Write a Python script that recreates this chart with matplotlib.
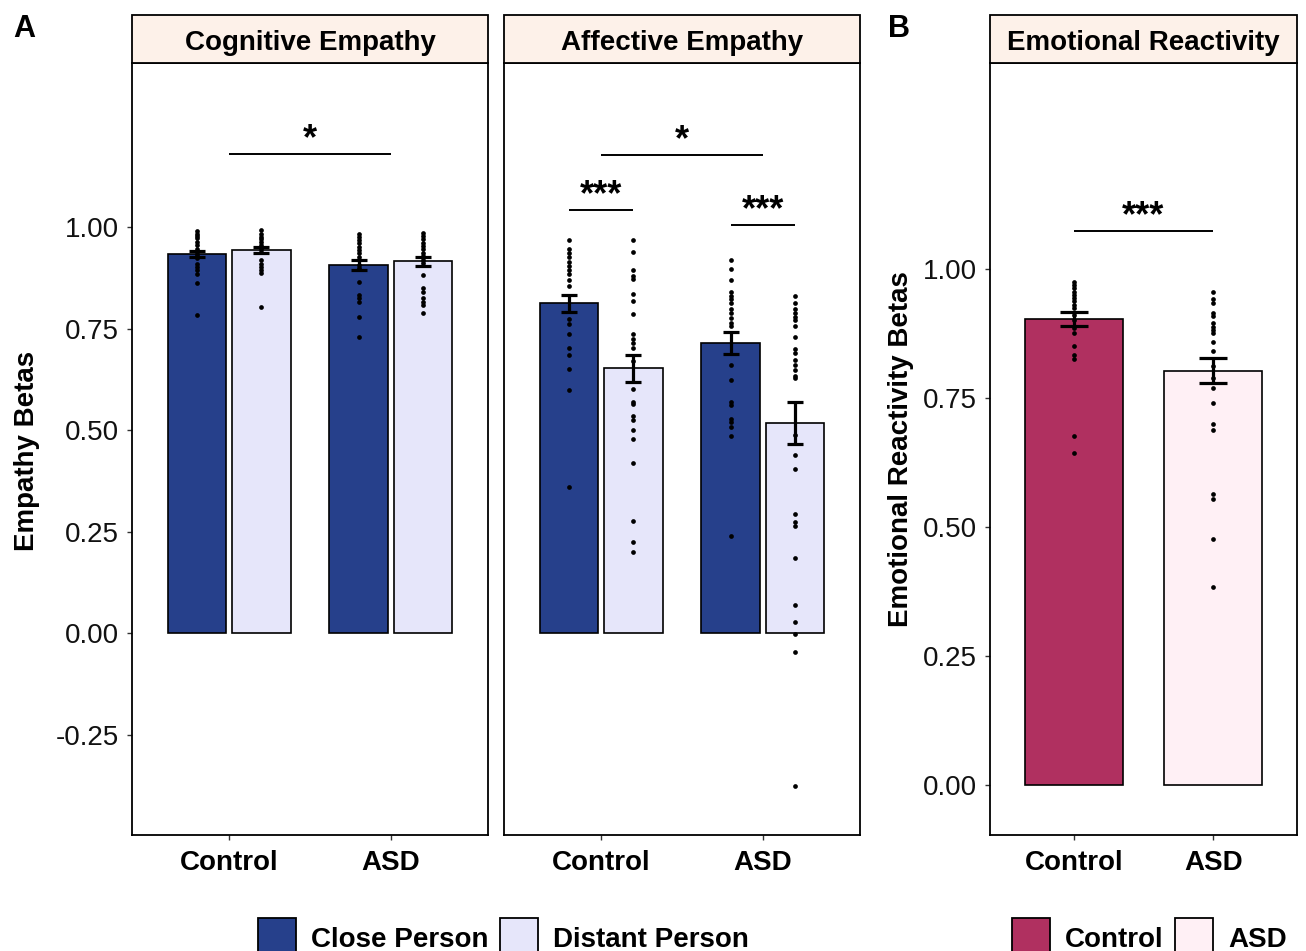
import matplotlib
matplotlib.use("Agg")
import matplotlib.pyplot as plt
from matplotlib.patches import Rectangle, Patch
import numpy as np

plt.rcParams['font.family'] = ['Liberation Sans', 'DejaVu Sans']

# ---- data ----
groups = ["Control", "ASD"]
conditions = ["Close Person", "Distant Person"]

# Cognitive empathy: means and standard errors [Control, ASD]
cog_close_mean = [0.933, 0.906]
cog_close_se = [0.008, 0.012]
cog_distant_mean = [0.943, 0.916]
cog_distant_se = [0.008, 0.011]

cog_close_ctrl_pts = [0.991, 0.984, 0.978, 0.972, 0.964, 0.956, 0.947, 0.939, 0.931, 0.923,
                      0.910, 0.902, 0.894, 0.884, 0.861, 0.784]
cog_distant_ctrl_pts = [0.993, 0.982, 0.976, 0.970, 0.964, 0.956, 0.947, 0.939, 0.919, 0.910,
                        0.902, 0.894, 0.887, 0.802]
cog_close_asd_pts = [0.984, 0.976, 0.968, 0.960, 0.951, 0.943, 0.935, 0.927, 0.919, 0.906,
                     0.898, 0.865, 0.832, 0.824, 0.816, 0.779, 0.730]
cog_distant_asd_pts = [0.986, 0.978, 0.970, 0.961, 0.953, 0.945, 0.937, 0.929, 0.920, 0.912,
                       0.883, 0.851, 0.841, 0.824, 0.816, 0.808, 0.787]

# Affective empathy
aff_close_mean = [0.812, 0.715]
aff_close_se = [0.021, 0.027]
aff_distant_mean = [0.652, 0.518]
aff_distant_se = [0.033, 0.052]

aff_close_ctrl_pts = [0.969, 0.947, 0.935, 0.925, 0.915, 0.905, 0.895, 0.885, 0.870, 0.855,
                      0.773, 0.760, 0.736, 0.702, 0.684, 0.651, 0.598, 0.359]
aff_distant_ctrl_pts = [0.969, 0.938, 0.894, 0.880, 0.873, 0.835, 0.818, 0.786, 0.736, 0.723,
                        0.714, 0.703, 0.671, 0.602, 0.570, 0.563, 0.534, 0.525, 0.500, 0.479,
                        0.419, 0.277, 0.224, 0.200]
aff_close_asd_pts = [0.919, 0.896, 0.869, 0.839, 0.830, 0.823, 0.812, 0.798, 0.789, 0.776,
                     0.764, 0.755, 0.659, 0.624, 0.568, 0.561, 0.527, 0.520, 0.507, 0.485, 0.240]
aff_distant_asd_pts = [0.829, 0.812, 0.798, 0.789, 0.778, 0.771, 0.757, 0.730, 0.700, 0.689,
                       0.672, 0.660, 0.648, 0.634, 0.627, 0.488, 0.438, 0.403, 0.292, 0.273,
                       0.264, 0.186, 0.069, 0.027, -0.002, -0.047, -0.376]

# Emotional reactivity
emo_mean = [0.903, 0.803]
emo_se = [0.013, 0.024]
emo_ctrl_pts = [0.975, 0.969, 0.963, 0.956, 0.950, 0.943, 0.937, 0.930, 0.924, 0.911,
                0.901, 0.885, 0.875, 0.851, 0.833, 0.825, 0.677, 0.643]
emo_asd_pts = [0.955, 0.941, 0.933, 0.915, 0.908, 0.895, 0.888, 0.882, 0.875, 0.859,
               0.841, 0.811, 0.788, 0.769, 0.740, 0.700, 0.688, 0.564, 0.554, 0.477, 0.383]

# significance brackets: (x1, x2, y, label)
cog_sig = [(1.0, 2.0, 1.18, "*")]
aff_sig = [(1.0, 2.0, 1.177, "*"), (0.8, 1.2, 1.042, "***"), (1.8, 2.2, 1.005, "***")]
emo_sig = [(1.0, 2.0, 1.074, "***")]

# ---- styling ----
close_col = "#26408B"
distant_col = "#E6E6FA"
ctrl_col = "#B03060"
asd_col = "#FFF0F5"
strip_col = "#FDF1E9"
FS = 20

W, H = 1306, 951
fig = plt.figure(figsize=(W / 100, H / 100), dpi=100)


def px_axes(left, right, top=63, bottom=835):
    return fig.add_axes([left / W, 1 - bottom / H, (right - left) / W, (bottom - top) / H])


def style_axes(ax, title, show_y=True):
    for sp in ax.spines.values():
        sp.set_linewidth(1.3)
        sp.set_color("black")
    ax.tick_params(axis="both", direction="out", length=3.6, width=1.0, color="#333333")
    ax.tick_params(axis="y", labelsize=FS, pad=6.0, labelcolor="#111111")
    ax.tick_params(axis="x", labelsize=FS, pad=7)
    ax.set_xticks([1, 2])
    ax.set_xticklabels(groups, fontweight="bold")
    ax.set_xlim(0.4, 2.6)
    if not show_y:
        ax.tick_params(axis="y", left=False, labelleft=False)
    # facet strip
    h = 48 / 772
    ax.add_patch(Rectangle((0, 1), 1, h, transform=ax.transAxes, clip_on=False,
                           facecolor=strip_col, edgecolor="black", linewidth=1.3, zorder=5))
    ax.text(0.5, 1 + 13 / 772, title, transform=ax.transAxes, ha="center", va="baseline",
            fontsize=FS, fontweight="bold", zorder=6)


def draw_sig(ax, sigs, off):
    for x1, x2, y, lab in sigs:
        ax.plot([x1, x2], [y, y], color="black", lw=1.4, solid_capstyle="butt")
        ax.text((x1 + x2) / 2, y + off, lab, ha="center", va="baseline",
                fontsize=26, fontweight="bold")


def draw_pair(ax, close_mean, close_se, dist_mean, dist_se, pts):
    x = np.array([1.0, 2.0])
    ax.bar(x - 0.2, close_mean, width=0.36, color=close_col, edgecolor="black", linewidth=1.2)
    ax.bar(x + 0.2, dist_mean, width=0.36, color=distant_col, edgecolor="black", linewidth=1.2)
    for xp, vals in zip([0.8, 1.2, 1.8, 2.2], pts):
        ax.plot(np.full(len(vals), xp), vals, "o", color="black", markersize=3.4, markeredgewidth=0)
    ax.errorbar(x - 0.2, close_mean, yerr=close_se, fmt="none", ecolor="black",
                elinewidth=2.3, capsize=5.8, capthick=2.3)
    ax.errorbar(x + 0.2, dist_mean, yerr=dist_se, fmt="none", ecolor="black",
                elinewidth=2.3, capsize=5.8, capthick=2.3)
    ax.set_ylim(-0.4975, 1.404)
    ax.set_yticks([-0.25, 0, 0.25, 0.5, 0.75, 1.0])
    ax.set_yticklabels(["-0.25", "0.00", "0.25", "0.50", "0.75", "1.00"])


# Panel A: cognitive
ax1 = px_axes(132, 488)
draw_pair(ax1, cog_close_mean, cog_close_se, cog_distant_mean, cog_distant_se,
          [cog_close_ctrl_pts, cog_distant_ctrl_pts, cog_close_asd_pts, cog_distant_asd_pts])
style_axes(ax1, "Cognitive Empathy")
draw_sig(ax1, cog_sig, 0.012)

# Panel A: affective
ax2 = px_axes(504, 860)
draw_pair(ax2, aff_close_mean, aff_close_se, aff_distant_mean, aff_distant_se,
          [aff_close_ctrl_pts, aff_distant_ctrl_pts, aff_close_asd_pts, aff_distant_asd_pts])
style_axes(ax2, "Affective Empathy", show_y=False)
draw_sig(ax2, aff_sig, 0.012)

# Panel B: emotional reactivity
ax3 = px_axes(990, 1297)
xb = np.array([1.0, 2.0])
ax3.bar(xb, emo_mean, width=0.7, color=[ctrl_col, asd_col], edgecolor="black", linewidth=1.2)
for xp, vals in zip(xb, [emo_ctrl_pts, emo_asd_pts]):
    ax3.plot(np.full(len(vals), xp), vals, "o", color="black", markersize=3.4, markeredgewidth=0)
ax3.errorbar(xb, emo_mean, yerr=emo_se, fmt="none", ecolor="black",
             elinewidth=2.3, capsize=10, capthick=2.3)
ax3.set_ylim(-0.097, 1.399)
ax3.set_yticks([0, 0.25, 0.5, 0.75, 1.0])
ax3.set_yticklabels(["0.00", "0.25", "0.50", "0.75", "1.00"])
style_axes(ax3, "Emotional Reactivity")
draw_sig(ax3, emo_sig, 0.009)

# axis titles and panel tags
fig.text(27 / W, 1 - 451 / H, "Empathy Betas", rotation=90, ha="center", va="center",
         fontsize=FS, fontweight="bold")
fig.text(901 / W, 1 - 449 / H, "Emotional Reactivity Betas", rotation=90, ha="center",
         va="center", fontsize=FS, fontweight="bold")
fig.text(13 / W, 1 - 37 / H, "A", ha="left", va="baseline", fontsize=22, fontweight="bold")
fig.text(888 / W, 1 - 37 / H, "B", ha="left", va="baseline", fontsize=22, fontweight="bold")

# legends (cut by the bottom edge like the reference)
legA = [Patch(facecolor=close_col, edgecolor="black", linewidth=1.3, label=conditions[0]),
        Patch(facecolor=distant_col, edgecolor="black", linewidth=1.3, label=conditions[1])]
legB = [Patch(facecolor=ctrl_col, edgecolor="black", linewidth=1.3, label=groups[0]),
        Patch(facecolor=asd_col, edgecolor="black", linewidth=1.3, label=groups[1])]
for handles, x0 in [(legA, 258), (legB, 1012)]:
    fig.legend(handles=handles, loc="upper left", bbox_to_anchor=(x0 / W, 1 - 918 / H),
               ncol=2, frameon=False, borderpad=0, borderaxespad=0,
               handlelength=1.37, handleheight=1.85, handletextpad=0.55, columnspacing=0.4,
               prop={"size": FS, "weight": "bold"})

fig.savefig("out.png", dpi=100)
